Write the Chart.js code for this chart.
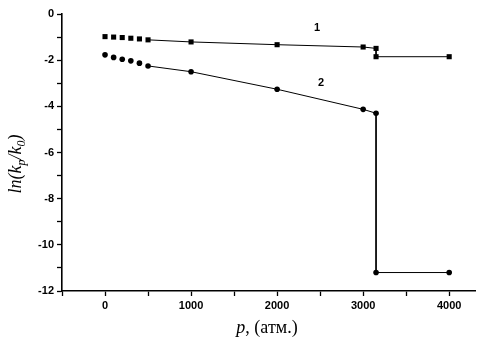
<!DOCTYPE html>
<html>
<head>
<meta charset="utf-8">
<script src="https://cdn.jsdelivr.net/npm/chart.js@4/dist/chart.umd.min.js"></script>
<style>
  html, body { margin: 0; padding: 0; background: #fff; }
  #wrap { width: 480px; height: 348px; }
</style>
</head>
<body>
<div id="wrap"><canvas id="chart" width="480" height="348"></canvas></div>
<script>
// pressure, atm
const p1 = [0, 100, 200, 300, 400, 500, 1000, 2000, 3000, 3150, 3150, 4000];
const lnK1 = [-0.98, -1.0, -1.02, -1.05, -1.08, -1.12, -1.21, -1.33, -1.43, -1.49, -1.85, -1.85];
const p2 = [0, 100, 200, 300, 400, 500, 1000, 2000, 3000, 3150, 3150, 4000];
const lnK2 = [-1.77, -1.88, -1.96, -2.03, -2.13, -2.25, -2.5, -3.26, -4.13, -4.3, -11.2, -11.2];

const xTicks = [-500, 0, 500, 1000, 1500, 2000, 2500, 3000, 3500, 4000];
const yTicks = [-12, -11, -10, -9, -8, -7, -6, -5, -4, -3, -2, -1, 0];

// curve labels: [text, x, y]
const curveLabels = [["1", 2465, -0.6], ["2", 2510, -3.0]];

const tickFont = { family: "'Liberation Sans Narrow', 'Liberation Sans', Arial, sans-serif", size: 11, weight: "bold" };

function toPoints(xs, ys) {
  return xs.map((x, i) => ({ x: x, y: ys[i] }));
}

// no line drawn between the closely spaced low-pressure points
const hideLow = ctx => ctx.p1.parsed.x <= 500 ? "rgba(0,0,0,0)" : "#000";

const annotate = {
  id: "annotate",
  afterDraw(chart) {
    const c = chart.ctx;
    const xs = chart.scales.x, ys = chart.scales.y;
    c.save();
    c.fillStyle = "#000";
    c.font = "bold 11px 'Liberation Sans Narrow', 'Liberation Sans', Arial, sans-serif";
    c.textAlign = "center";
    c.textBaseline = "middle";
    curveLabels.forEach(([t, x, y]) => c.fillText(t, xs.getPixelForValue(x), ys.getPixelForValue(y)));

    // x title: p, (атм.)
    c.textBaseline = "alphabetic";
    c.textAlign = "left";
    const it = "italic 18px 'Liberation Serif', serif";
    const rm = "18px 'Liberation Serif', serif";
    c.font = it;
    const wa = c.measureText("p").width;
    c.font = rm;
    const wb = c.measureText(", (атм.)").width;
    const x0 = 267 - (wa + wb) / 2;
    c.font = it;
    c.fillText("p", x0, 333);
    c.font = rm;
    c.fillText(", (атм.)", x0 + wa, 333);

    // y title: ln(kp/k0) with subscripts
    c.translate(16, 164);
    c.rotate(-Math.PI / 2);
    const parts = [["ln(k", 18, 0], ["p", 12, 4], ["/k", 18, 0], ["0", 12, 4], [")", 18, 0]];
    let w = 0;
    parts.forEach(([t, s]) => { c.font = "italic " + s + "px 'Liberation Serif', serif"; w += c.measureText(t).width; });
    let px = -w / 2;
    parts.forEach(([t, s, dy]) => {
      c.font = "italic " + s + "px 'Liberation Serif', serif";
      c.fillText(t, px, 5 + dy);
      px += c.measureText(t).width;
    });
    c.restore();
  }
};

new Chart(document.getElementById("chart"), {
  type: "scatter",
  data: {
    datasets: [{
      label: "1",
      data: toPoints(p1, lnK1),
      showLine: true,
      borderColor: "#000",
      borderWidth: 1,
      backgroundColor: "#000",
      pointStyle: "rect",
      pointRadius: 3.6,
      pointBorderWidth: 0,
      segment: { borderColor: hideLow }
    }, {
      label: "2",
      data: toPoints(p2, lnK2),
      showLine: true,
      borderColor: "#000",
      borderWidth: 1,
      backgroundColor: "#000",
      pointStyle: "circle",
      pointRadius: 2.8,
      pointBorderWidth: 0,
      segment: { borderColor: hideLow }
    }]
  },
  options: {
    responsive: false,
    animation: false,
    layout: { padding: { top: 14, right: 5, left: 0, bottom: 0 } },
    plugins: { legend: { display: false }, tooltip: { enabled: false } },
    scales: {
      x: {
        type: "linear",
        min: -500,
        max: 4300,
        afterBuildTicks: s => { s.ticks = xTicks.map(v => ({ value: v })); },
        afterFit: s => { s.height = 57; },
        border: { color: "#000", width: 1.6 },
        grid: { drawOnChartArea: false, color: "#000", tickLength: 5, tickWidth: 1.3 },
        ticks: {
          color: "#000",
          padding: 3,
          maxRotation: 0,
          font: tickFont,
          callback: v => (v >= 0 && v % 1000 === 0) ? String(v) : ""
        }
      },
      y: {
        type: "linear",
        min: -12,
        max: 0,
        afterBuildTicks: s => { s.ticks = yTicks.map(v => ({ value: v })); },
        afterFit: s => { s.width = 62; },
        border: { color: "#000", width: 1.6 },
        grid: { drawOnChartArea: false, color: "#000", tickLength: 5, tickWidth: 1.3 },
        ticks: {
          color: "#000",
          padding: 3,
          font: tickFont,
          callback: v => v % 2 === 0 ? String(v) : ""
        }
      }
    }
  },
  plugins: [annotate]
});
</script>
</body>
</html>
